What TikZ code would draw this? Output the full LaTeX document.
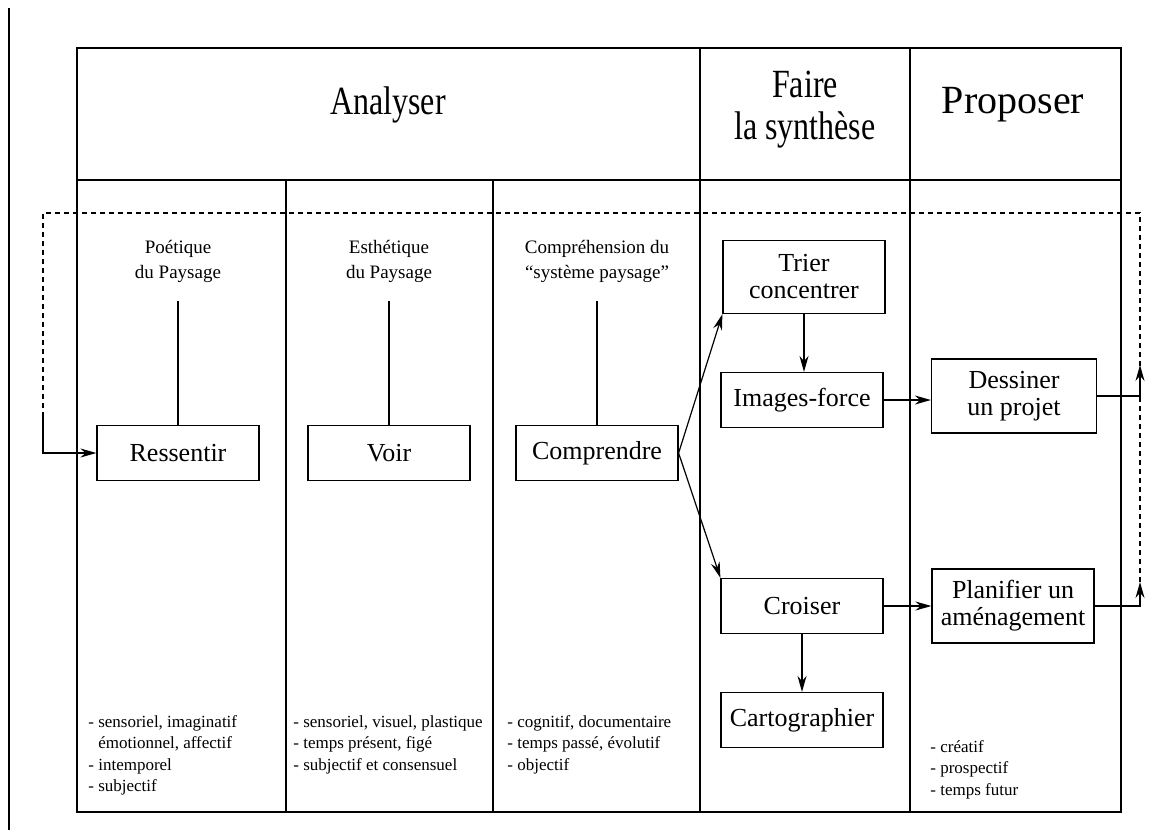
\documentclass[tikz,border=0pt]{standalone}
\usepackage{fontspec}
\setmainfont{Liberation Serif}
\newfontfamily\headfont[FakeStretch=0.8]{Liberation Serif}
\usetikzlibrary{arrows.meta}

\begin{document}
\begin{tikzpicture}[x=0.5pt,y=-0.5pt,
  etape/.style={draw,line width=0.6pt,minimum width=81pt,minimum height=27.5pt,
    inner sep=0pt,align=center,font=\fontsize{13}{13.5}\selectfont},
  titre/.style={font=\headfont\fontsize{20}{21}\selectfont,align=center},
  legende/.style={font=\fontsize{9.5}{12.5}\selectfont,align=center},
  liste/.style={anchor=north west,align=left,inner sep=0pt,
    font=\fontsize{8.5}{10.75}\selectfont},
  fleche/.style={line width=0.6pt,-{Stealth[length=8pt,width=4.5pt]}},
  retour/.style={line width=0.6pt,dash pattern=on 2.5pt off 2pt}]

\useasboundingbox (0,0) rectangle (1149,830);

% Scan edge
\draw[line width=0.8pt] (9,8) -- (9,830);

% Table
\draw[line width=0.8pt] (77,48) rectangle (1121,812);
\draw[line width=0.8pt] (77,180) -- (1121,180);
\foreach \x in {286,493} \draw[line width=0.7pt] (\x,180) -- (\x,812);
\foreach \x in {700,910} \draw[line width=0.7pt] (\x,48) -- (\x,812);

% Headings
\node[titre] (analyser) at (388,105) {Analyser};
\node[titre] (synthese) at (805,110) {Faire\\la synthèse};
\node[titre,font=\fontsize{20}{21}\selectfont] (proposer) at (1013,105) {Proposer};

% Captions
\node[legende] (capA) at (178,261) {Poétique\\du Paysage};
\node[legende] (capB) at (389,261) {Esthétique\\du Paysage};
\node[legende] (capC) at (597,261) {Compréhension du\\“système paysage”};

% Steps
\node[etape] (ressentir) at (178,453) {Ressentir};
\node[etape] (voir) at (389,453) {Voir};
\node[etape] (comprendre) at (597,453) {Comprendre};
\node[etape,minimum height=36.5pt] (trier) at (804,277) {Trier\\concentrer};
\node[etape] (images) at (802,400) {Images-force};
\node[etape] (croiser) at (802,606) {Croiser};
\node[etape] (carto) at (802,720) {Cartographier};
\node[etape,minimum height=37pt,minimum width=82.5pt] (dessiner) at (1014,396) {Dessiner\\un projet};
\node[etape,minimum height=37pt] (planifier) at (1013,606) {Planifier un\\aménagement};

\foreach \c/\b in {capA/ressentir,capB/voir,capC/comprendre}
  \draw[line width=0.6pt] (\c.south) ++(0,12) -- (\b.north);

% Arrows
\draw[fleche] (comprendre.east) -- (trier.south west);
\draw[fleche] (comprendre.east) -- (croiser.north west);
\draw[fleche] (trier.south) -- (trier.south |- images.north);
\draw[fleche] (images.east) -- (images.east -| dessiner.west);
\draw[fleche] (croiser.east) -- (planifier.west);
\draw[fleche] (croiser.south) -- (croiser.south |- carto.north);

% Feedback loop
\coordinate (hautD) at (1140,213);
\coordinate (hautG) at (43,213);
\coordinate (basG) at (43,415);
\coordinate (flecheD) at (1140,365);
\coordinate (flecheP) at (1140,582);
\draw[retour] (flecheP) -- (hautD) -- (hautG) -- (basG);
\draw[fleche] (basG) |- (ressentir.west);
\draw[fleche] (dessiner.east) -| (flecheD);
\draw[fleche] (planifier.east) -| (flecheP);

% Lists
\node[liste] (listeA) at (88,715) {- sensoriel, imaginatif\\\hphantom{- }émotionnel, affectif\\- intemporel\\- subjectif};
\node[liste] (listeB) at (293,715) {- sensoriel, visuel, plastique\\- temps présent, figé\\- subjectif et consensuel};
\node[liste] (listeC) at (507,715) {- cognitif, documentaire\\- temps passé, évolutif\\- objectif};
\node[liste] (listeD) at (930,740) {- créatif\\- prospectif\\- temps futur};

\end{tikzpicture}
\end{document}
